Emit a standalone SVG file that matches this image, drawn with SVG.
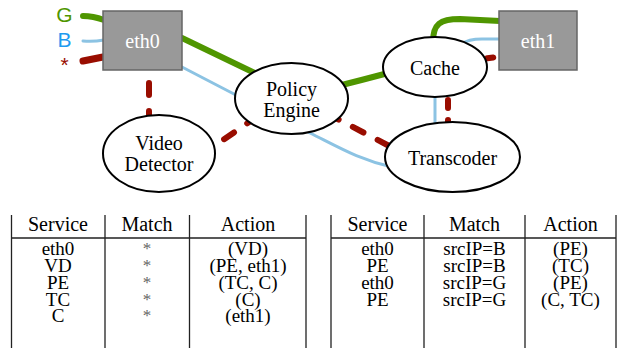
<svg xmlns="http://www.w3.org/2000/svg" width="624" height="360" viewBox="0 0 624 360">
<style>
.g{fill:none;stroke:#4f9600;stroke-width:6;stroke-linecap:round}
.b{fill:none;stroke:#8cc3e3;stroke-width:3;stroke-linecap:round}
.r{fill:none;stroke:#990d00;stroke-width:6;stroke-linecap:round;stroke-dasharray:12 16}
.box{fill:#999;stroke:#666;stroke-width:1.5}
.ell{fill:#fff;stroke:#000;stroke-width:2}
.t{font-family:"Liberation Serif","Times New Roman",serif;font-size:20px;fill:#000;text-anchor:middle}
.d{font-size:19px}
.s{fill:#666;font-size:17px}
.w{fill:#fff}
.lab{font-family:"Liberation Sans",Arial,sans-serif;font-size:21px;text-anchor:middle}
.tl{stroke:#222;stroke-width:1.3;fill:none}
</style>
<g id="connectors">
<path class="g" d="M83,16 Q93,16 104,20"/>
<path class="g" d="M182,38 L265,78"/>
<path class="g" d="M330,88 Q362,80 392,72"/>
<path class="g" d="M433,42 C433,24 440,19 460,19 L500,21"/>
<path class="b" d="M83,41 Q93,42 104,40"/>
<path class="b" d="M182,67 C230,92 280,118 310,133 C340,148 360,160 392,167"/>
<path class="b" d="M435,95 L435,125"/>
<path class="b" d="M462,44 Q468,39 482,39 L500,39"/>
<path fill="none" stroke="#990d00" stroke-width="7" stroke-linecap="round" d="M83,61 Q93,59 103,57"/>
<path class="r" d="M149,55 L149,125"/>
<path class="r" d="M201,155 L258,116"/>
<path class="r" d="M328,114 L395,149"/>
<path class="r" style="stroke-dasharray:8 12" d="M448,80 L448,130"/>
<path class="r" style="stroke-dasharray:6 20" d="M462,62 Q480,59 505,56"/>
</g>
<g id="labels">
<text class="lab" x="64.5" y="22" fill="#4f9600">G</text>
<text class="lab" x="64.5" y="47" fill="#1e9bf0">B</text>
<text class="lab" x="64.5" y="72" fill="#990d00">*</text>
</g>
<g id="eth0">
<rect class="box" x="103" y="11" width="79" height="59"/>
<text class="t w" x="142.5" y="48">eth0</text>
</g>
<g id="eth1">
<rect class="box" x="499" y="11" width="78" height="59"/>
<text class="t w" x="538" y="48">eth1</text>
</g>
<g id="policy-engine">
<ellipse class="ell" cx="291.5" cy="98.5" rx="56.5" ry="35.5"/>
<text class="t" x="291.5" y="96">Policy</text>
<text class="t" x="291.5" y="117">Engine</text>
</g>
<g id="video-detector">
<ellipse class="ell" cx="159" cy="153.5" rx="56" ry="38.5"/>
<text class="t" x="159" y="150">Video</text>
<text class="t" x="159" y="171">Detector</text>
</g>
<g id="cache">
<ellipse class="ell" cx="435" cy="67" rx="52" ry="30"/>
<text class="t" x="435" y="75">Cache</text>
</g>
<g id="transcoder">
<ellipse class="ell" cx="452.5" cy="157" rx="67.5" ry="35"/>
<text class="t" x="452.5" y="165">Transcoder</text>
</g>
<g id="table-left">
<path class="tl" d="M11.5,215 V348 M105,215 V348 M189.5,215 V348 M306,215 V348 M11.5,238 H306"/>
<text class="t" x="58" y="231">Service</text>
<text class="t" x="147" y="231">Match</text>
<text class="t" x="248" y="231">Action</text>
<text class="t d" x="58" y="255">eth0</text>
<text class="t d" x="58" y="272">VD</text>
<text class="t d" x="58" y="289">PE</text>
<text class="t d" x="58" y="306">TC</text>
<text class="t d" x="58" y="322">C</text>
<text class="t s" x="147" y="254">*</text>
<text class="t s" x="147" y="271">*</text>
<text class="t s" x="147" y="288">*</text>
<text class="t s" x="147" y="305">*</text>
<text class="t s" x="147" y="321">*</text>
<text class="t d" x="248" y="255">(VD)</text>
<text class="t d" x="248" y="272">(PE, eth1)</text>
<text class="t d" x="248" y="289">(TC, C)</text>
<text class="t d" x="248" y="306">(C)</text>
<text class="t d" x="248" y="322">(eth1)</text>
</g>
<g id="table-right">
<path class="tl" d="M331,215 V348 M424,215 V348 M525,215 V348 M616,215 V348 M331,238 H616"/>
<text class="t" x="377.5" y="231">Service</text>
<text class="t" x="474.5" y="231">Match</text>
<text class="t" x="570.5" y="231">Action</text>
<text class="t d" x="377.5" y="255">eth0</text>
<text class="t d" x="377.5" y="272">PE</text>
<text class="t d" x="377.5" y="289">eth0</text>
<text class="t d" x="377.5" y="306">PE</text>
<text class="t d" x="474.5" y="255">srcIP=B</text>
<text class="t d" x="474.5" y="272">srcIP=B</text>
<text class="t d" x="474.5" y="289">srcIP=G</text>
<text class="t d" x="474.5" y="306">srcIP=G</text>
<text class="t d" x="570.5" y="255">(PE)</text>
<text class="t d" x="570.5" y="272">(TC)</text>
<text class="t d" x="570.5" y="289">(PE)</text>
<text class="t d" x="570.5" y="306">(C, TC)</text>
</g>
</svg>
